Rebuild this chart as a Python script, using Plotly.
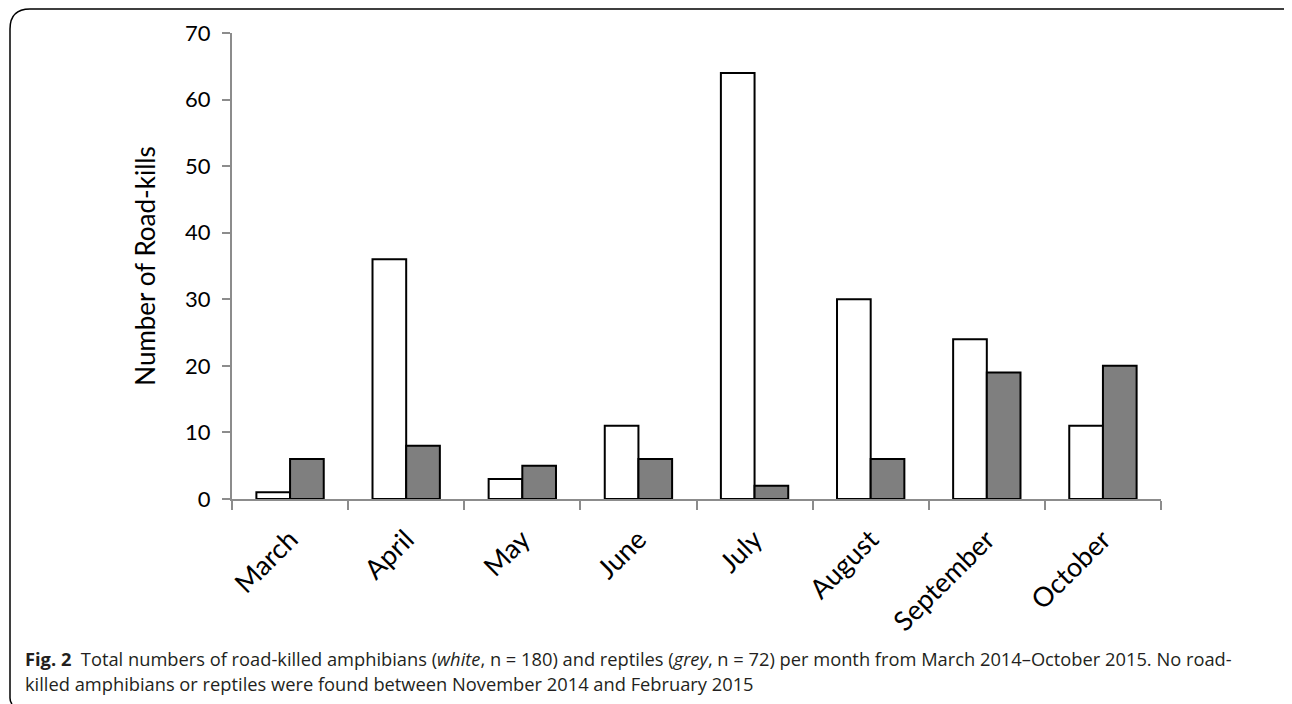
import plotly.graph_objects as go

months = ["March", "April", "May", "June", "July", "August", "September", "October"]
amphibians = [1, 36, 3, 11, 64, 30, 24, 11]
reptiles = [6, 8, 5, 6, 2, 6, 19, 20]
y_ticks = [0, 10, 20, 30, 40, 50, 60, 70]

OFF = 8  # page body margin
W, H = 1292 - OFF, 704 - OFF
L, R, T, B = 232 - OFF, 1161 - OFF, 33 - OFF, 499 - OFF

def px(x):
    return (x - OFF - L) / (R - L)

def py(y):
    return (B - (y - OFF)) / (B - T)

fig = go.Figure()
fig.add_trace(go.Bar(x=months, y=amphibians, name="Amphibians",
                     marker=dict(color="white", line=dict(color="black", width=2))))
fig.add_trace(go.Bar(x=months, y=reptiles, name="Reptiles",
                     marker=dict(color="#7f7f7f", line=dict(color="black", width=2))))

FONT = "Lato, Open Sans, sans-serif"
fig.update_layout(
    width=W, height=H,
    margin=dict(l=L, r=W - R, t=T, b=H - B),
    plot_bgcolor="white", paper_bgcolor="white",
    barmode="group", bargap=0.42, bargroupgap=0,
    showlegend=False,
    xaxis=dict(type="category", tickson="boundaries", ticks="outside", ticklen=9,
               tickcolor="#8c8c8c", tickwidth=2, showline=True, linecolor="#8c8c8c",
               linewidth=2, tickangle=-45, tickfont=dict(family=FONT, size=27, color="black"),
               ticklabelstandoff=12, showgrid=False),
    yaxis=dict(range=[0, 70], tickvals=y_ticks, ticks="outside", ticklen=8,
               tickcolor="#8c8c8c", tickwidth=2, showline=True, linecolor="#8c8c8c",
               linewidth=2, tickfont=dict(family=FONT, size=22, color="black"),
               ticklabelstandoff=7, showgrid=False, zeroline=False,
               title=dict(text="Number of Road-kills", font=dict(family=FONT, size=26, color="black"), standoff=22)),
)

# frame with rounded corners
path = (f"M {px(12)},{py(704)} Q {px(10)},{py(702)} {px(10)},{py(698)} L {px(10)},{py(29)} "
        f"Q {px(10)},{py(9)} {px(30)},{py(9)} "
        f"L {px(1283)},{py(9)} Q {px(1290)},{py(9)} {px(1291)},{py(13)}")
fig.add_shape(type="path", path=path, xref="paper", yref="paper",
              line=dict(color="black", width=1.5))

line1 = ("<b>Fig. 2</b>  Total numbers of road-killed amphibians (<i>white</i>, n = 180) and reptiles "
         "(<i>grey</i>, n = 72) per month from March 2014–October 2015. No road-")
line2 = "killed amphibians or reptiles were found between November 2014 and February 2015"

capfont = dict(family="Open Sans, sans-serif", size=18.3, color="#231f20")
fig.add_annotation(xref="paper", yref="paper", x=px(23), y=py(658), xanchor="left", yanchor="middle",
                   showarrow=False, align="left", font=capfont, text=line1)
fig.add_annotation(xref="paper", yref="paper", x=px(23), y=py(683), xanchor="left", yanchor="middle",
                   showarrow=False, align="left", font=capfont, text=line2)

fig.write_html("out.html")
